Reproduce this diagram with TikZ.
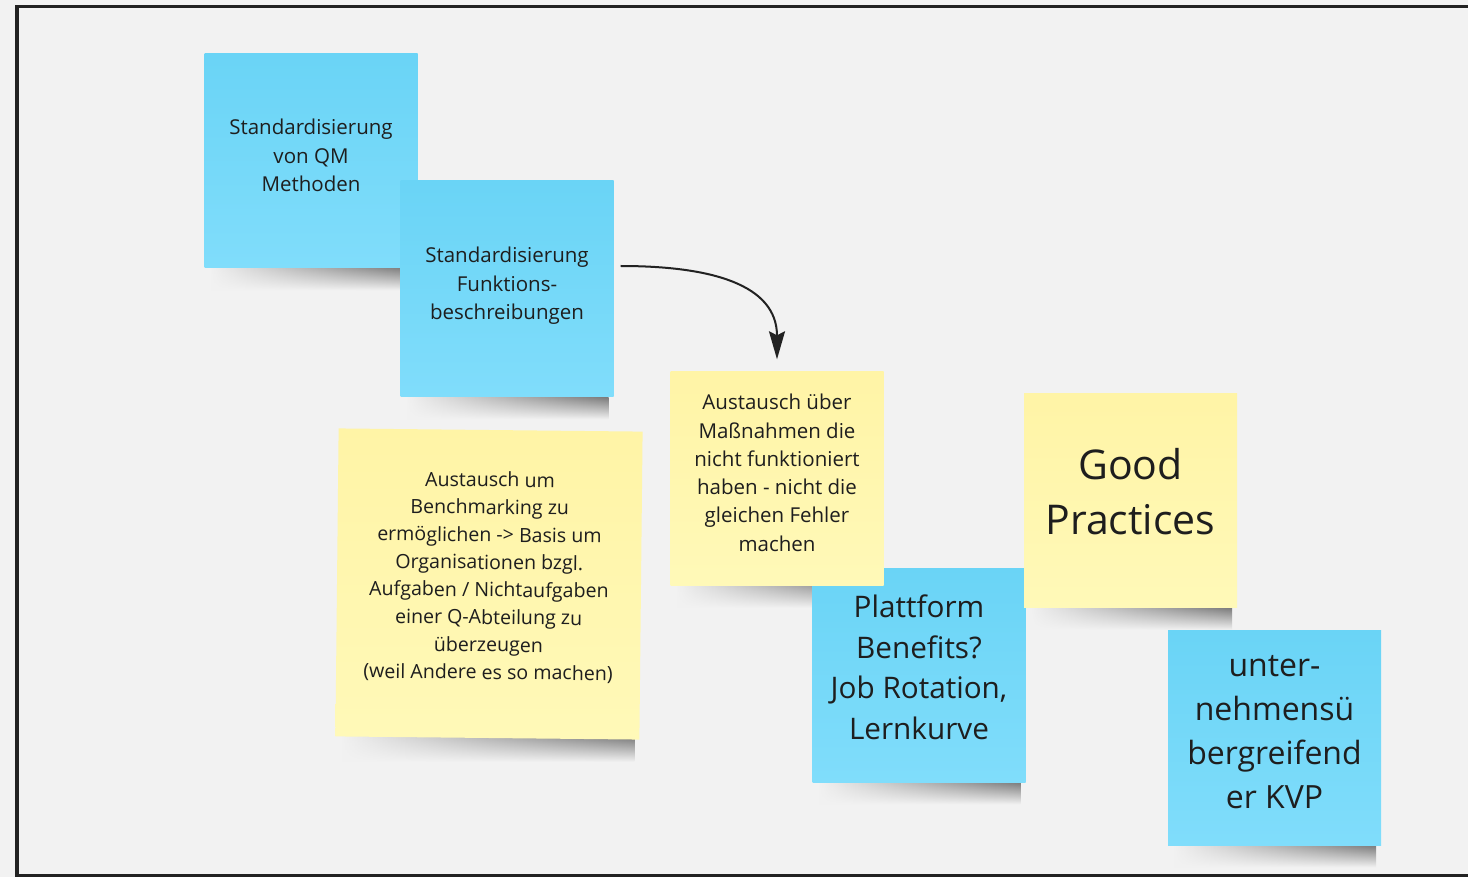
\documentclass[tikz,border=0pt]{standalone}
\usepackage{fontspec}
\setmainfont{Open Sans}
\usetikzlibrary{arrows.meta,fadings}

\definecolor{boardgray}{RGB}{242,242,242}
\definecolor{frameline}{RGB}{34,34,34}
\definecolor{bluetop}{RGB}{106,212,246}
\definecolor{bluebottom}{RGB}{128,221,251}
\definecolor{yellowtop}{RGB}{255,244,166}
\definecolor{yellowbottom}{RGB}{255,249,184}
\definecolor{notetext}{RGB}{30,30,30}

\pgfdeclarelayer{board}
\pgfsetlayers{board,main}

\tikzfading[name=shadowfade, left color=transparent!100, middle color=transparent!8, right color=transparent!30]

\tikzset{
  note/.style={minimum width=213, minimum height=214, inner sep=0pt, align=center,
    text=notetext, font=\fontsize{20.5}{28.3}\selectfont, text depth=11.5pt},
  bluenote/.style={note, top color=bluetop, bottom color=bluebottom},
  yellownote/.style={note, top color=yellowtop, bottom color=yellowbottom},
  noteshadow/.style={top color=black!72, middle color=black!32, bottom color=boardgray, path fading=shadowfade},
  flow/.style={draw=frameline, line width=2pt, -{Stealth[length=28pt,width=16pt,inset=4pt]}}
}

% soft shadow under the lower edge of a note
\newcommand{\noteshadow}[1]{\shade[noteshadow] ([xshift=6pt]#1.south west) rectangle ([xshift=-5pt,yshift=-22pt]#1.south east);}

\begin{document}
\begin{tikzpicture}[x=1pt, y=-1pt]

% Board and its frame
\useasboundingbox (0,0) rectangle (1468,877);
\begin{pgfonlayer}{board}
\fill[boardgray] (0,0) rectangle (1468,877);
\end{pgfonlayer}
\draw[frameline, line width=3.5pt] (1480,6.5) -- (17,6.5) -- (17,875.5) -- (1480,875.5);

% Standardisation notes (blue)
\node[bluenote] (qm) at (311,161) {Standardisierung\\von QM\\Methoden};
\node[bluenote, minimum height=216] (fkt) at (507,289) {Standardisierung\\Funktions-\\beschreibungen};

% Benchmarking note (yellow, large)
\node[yellownote, minimum width=304, minimum height=308, rotate=-0.6,
  font=\fontsize{19.6}{27.5}\selectfont, text depth=17pt] (bench) at (489,584)
  {Austausch um\\Benchmarking zu\\ermöglichen -> Basis um\\Organisationen bzgl.\\Aufgaben / Nichtaufgaben\\einer Q-Abteilung zu\\überzeugen\\(weil Andere es so machen)};

% Platform benefits (blue) sits below the exchange note
\node[bluenote, font=\fontsize{29.7}{40.7}\selectfont, text depth=16pt] (benef) at (919,675)
  {Plattform\\Benefits?\\Job Rotation,\\Lernkurve};

% Exchange about measures (yellow)
\node[yellownote] (mass) at (777,478.5)
  {Austausch über\\Maßnahmen die\\nicht funktioniert\\haben - nicht die\\gleichen Fehler\\machen};

% Good practices and KVP
\node[yellownote, font=\fontsize{41}{55}\selectfont, text depth=18pt] (good) at (1130.5,500.5) {Good\\Practices};
\node[bluenote, minimum height=215, font=\fontsize{32}{44}\selectfont, text depth=12pt] (kvp) at (1274.5,737.5)
  {unter-\\nehmensü\\bergreifend\\er KVP};

% Shadows, all under the notes
\begin{pgfonlayer}{board}
\foreach \n in {qm,fkt,bench,benef,mass,good,kvp}
  {\noteshadow{\n}}
\end{pgfonlayer}

% Arrow from the functions note to the exchange note
\draw[flow] ([shift={(7,-23)}]fkt.east) .. controls +(90,0) and +(0,-75) .. ([yshift=12pt]mass.north);

\end{tikzpicture}
\end{document}
